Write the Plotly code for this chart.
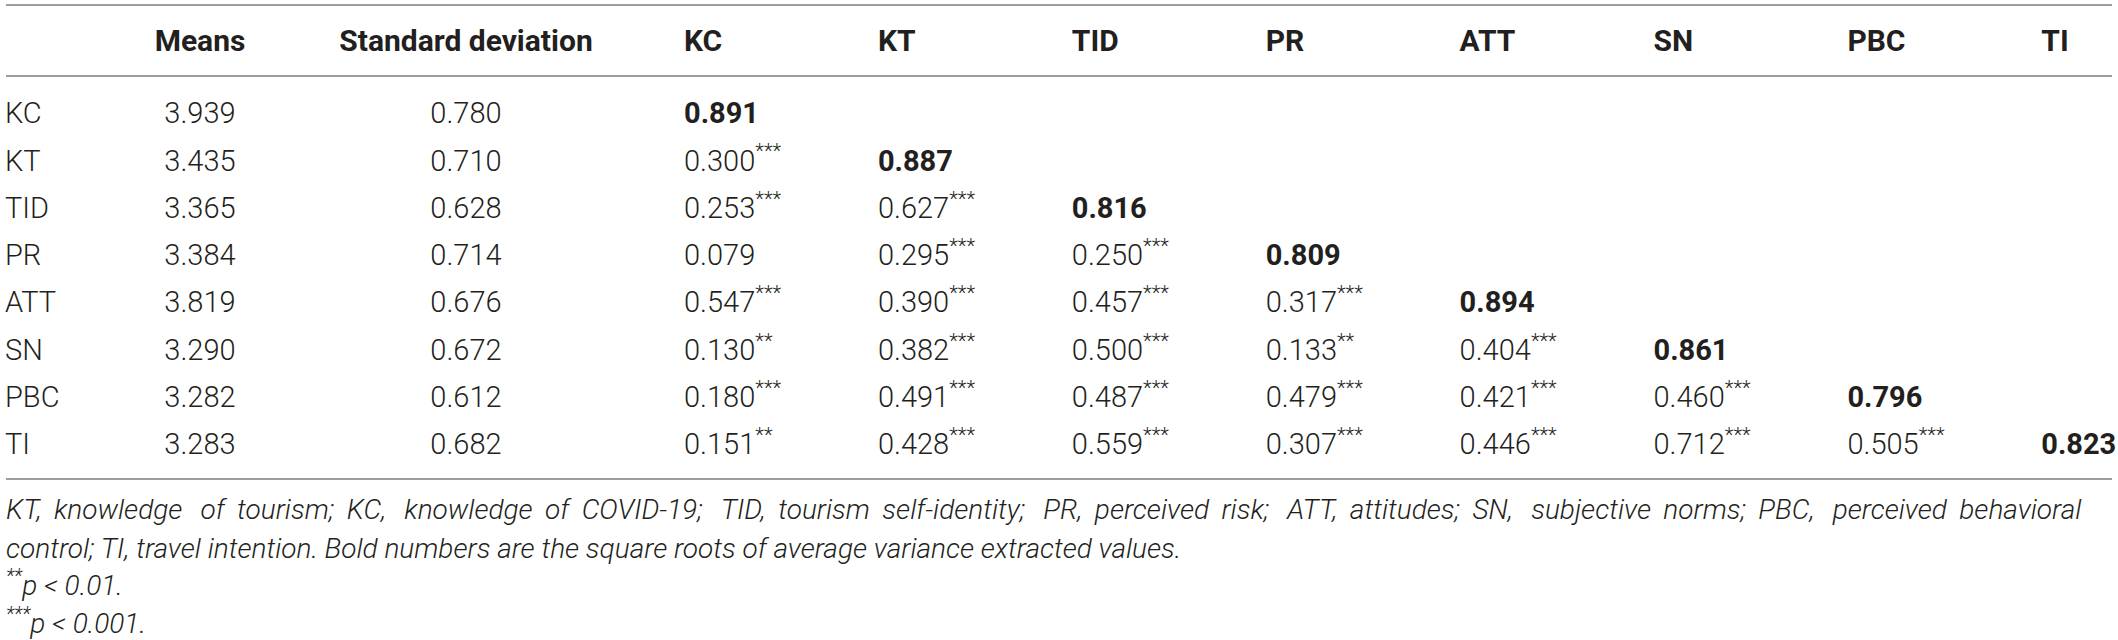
import plotly.graph_objects as go

# table content
row_labels = ["KC", "KT", "TID", "PR", "ATT", "SN", "PBC", "TI"]
col_labels = ["Means", "Standard deviation", "KC", "KT", "TID", "PR", "ATT", "SN", "PBC", "TI"]
means = [3.939, 3.435, 3.365, 3.384, 3.819, 3.290, 3.282, 3.283]
std_devs = [0.780, 0.710, 0.628, 0.714, 0.676, 0.672, 0.612, 0.682]

# lower triangle of the correlation matrix, diagonal = sqrt(AVE)
corr = [
    [0.891],
    [0.300, 0.887],
    [0.253, 0.627, 0.816],
    [0.079, 0.295, 0.250, 0.809],
    [0.547, 0.390, 0.457, 0.317, 0.894],
    [0.130, 0.382, 0.500, 0.133, 0.404, 0.861],
    [0.180, 0.491, 0.487, 0.479, 0.421, 0.460, 0.796],
    [0.151, 0.428, 0.559, 0.307, 0.446, 0.712, 0.505, 0.823],
]
stars = [
    [""],
    ["***", ""],
    ["***", "***", ""],
    ["", "***", "***", ""],
    ["***", "***", "***", "***", ""],
    ["**", "***", "***", "**", "***", ""],
    ["***", "***", "***", "***", "***", "***", ""],
    ["**", "***", "***", "***", "***", "***", "***", ""],
]

notes = [
    "KT, knowledge of tourism; KC, knowledge of COVID-19; TID, tourism self-identity; PR, perceived risk; "
    "ATT, attitudes; SN, subjective norms; PBC, perceived behavioral",
    "control; TI, travel intention. Bold numbers are the square roots of average variance extracted values.",
    "<sup>**</sup>p < 0.01.",
    "<sup>***</sup>p < 0.001.",
]

# layout (pixels)
W, H = 2118, 640
LABEL_X = 5
MEANS_X = 200
SD_X = 466
CORR_X0 = 684
CORR_STEP = 193.9
HEADER_Y = 43
ROW_Y0 = 116
ROW_STEP = 47.3
RULES_Y = [5, 76, 479]
NOTE_Y = [509, 548, 583, 621]

INK = "#231f20"
FONT = "Roboto"
SIZE = 29
HEAD_SIZE = 30
NOTE_SIZE = 28
THIN = "\u2009"

row_y = [ROW_Y0 + ROW_STEP * i for i in range(len(row_labels))]
corr_x = [CORR_X0 + CORR_STEP * j for j in range(len(row_labels))]


def fmt(v):
    return f"{v:.3f}"


def justify(line):
    # the first footnote line is justified to the table width in the source;
    # widen the word gaps a little to mimic that
    words = line.split(" ")
    out = words[0]
    for k, w in enumerate(words[1:]):
        out += " " + THIN * (2 if k % 3 == 1 else 1) + w
    return out


fig = go.Figure()

# header row
fig.add_trace(go.Scatter(
    x=[MEANS_X, SD_X], y=[HEADER_Y, HEADER_Y],
    text=[f"<b>{c}</b>" for c in col_labels[:2]],
    mode="text", textposition="middle center",
    textfont=dict(family=FONT, size=HEAD_SIZE, color=INK),
    hoverinfo="skip", cliponaxis=False,
))
fig.add_trace(go.Scatter(
    x=corr_x, y=[HEADER_Y] * len(corr_x),
    text=[f"<b>{c}</b>" for c in col_labels[2:]],
    mode="text", textposition="middle right",
    textfont=dict(family=FONT, size=HEAD_SIZE, color=INK),
    hoverinfo="skip", cliponaxis=False,
))

# row labels
fig.add_trace(go.Scatter(
    x=[LABEL_X] * len(row_labels), y=row_y, text=row_labels,
    mode="text", textposition="middle right",
    textfont=dict(family=FONT, size=SIZE, color=INK, weight=300),
    hoverinfo="skip", cliponaxis=False,
))

# means and standard deviations
fig.add_trace(go.Scatter(
    x=[MEANS_X] * len(means), y=row_y, text=[fmt(v) for v in means],
    mode="text", textposition="middle center",
    textfont=dict(family=FONT, size=SIZE, color=INK, weight=300),
    hoverinfo="skip", cliponaxis=False,
))
fig.add_trace(go.Scatter(
    x=[SD_X] * len(std_devs), y=row_y, text=[fmt(v) for v in std_devs],
    mode="text", textposition="middle center",
    textfont=dict(family=FONT, size=SIZE, color=INK, weight=300),
    hoverinfo="skip", cliponaxis=False,
))

# correlations: off-diagonal light, diagonal bold
off_x, off_y, off_t = [], [], []
diag_x, diag_y, diag_t = [], [], []
for i, row in enumerate(corr):
    for j, v in enumerate(row):
        if i == j:
            diag_x.append(corr_x[j])
            diag_y.append(row_y[i])
            diag_t.append(f"<b>{fmt(v)}</b>")
        else:
            off_x.append(corr_x[j])
            off_y.append(row_y[i])
            s = stars[i][j]
            off_t.append(fmt(v) + (f"<sup>{s}</sup>" if s else ""))

fig.add_trace(go.Scatter(
    x=off_x, y=off_y, text=off_t,
    mode="text", textposition="middle right",
    textfont=dict(family=FONT, size=SIZE, color=INK, weight=300),
    hoverinfo="skip", cliponaxis=False,
))
fig.add_trace(go.Scatter(
    x=diag_x, y=diag_y, text=diag_t,
    mode="text", textposition="middle right",
    textfont=dict(family=FONT, size=SIZE, color=INK),
    hoverinfo="skip", cliponaxis=False,
))

# horizontal rules
for y in RULES_Y:
    fig.add_shape(type="line", xref="x", yref="y", x0=6, x1=W - 6, y0=y, y1=y,
                  line=dict(color="#9d9d9d", width=2))

# footnotes
for k, (note, y) in enumerate(zip(notes, NOTE_Y)):
    if k == 0:
        note = justify(note)
    fig.add_annotation(
        x=4, y=y, xref="x", yref="y", text=f"<i>{note}</i>",
        showarrow=False, xanchor="left", yanchor="middle",
        font=dict(family=FONT, size=NOTE_SIZE, color=INK, weight=300),
    )

fig.update_layout(
    width=W, height=H,
    margin=dict(l=0, r=0, t=0, b=0),
    paper_bgcolor="white", plot_bgcolor="white",
    showlegend=False,
    xaxis=dict(range=[0, W], visible=False, fixedrange=True),
    yaxis=dict(range=[H, 0], visible=False, fixedrange=True),
)

fig.write_html("out.html", config={"displayModeBar": False},
               post_script="document.body.style.margin='0';")
